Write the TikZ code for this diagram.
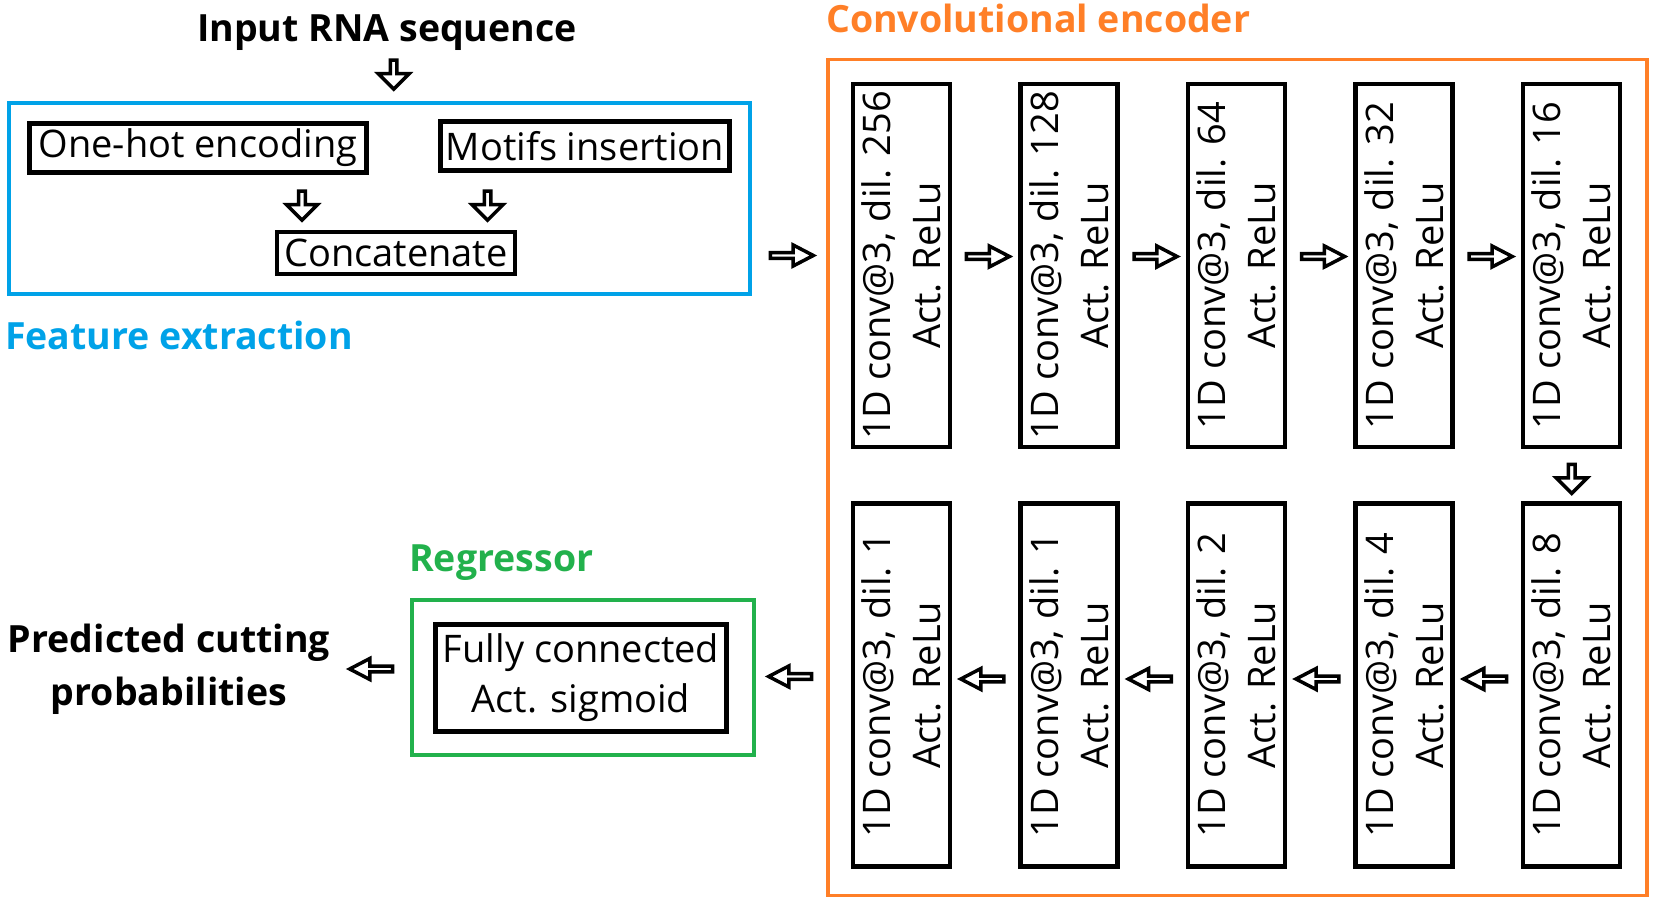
\documentclass[tikz,border=0pt]{standalone}
\usepackage{fontspec}
\setmainfont{Open Sans}
\usetikzlibrary{calc, shapes.arrows}
\definecolor{fblue}{RGB}{0,162,232}
\definecolor{forange}{RGB}{255,127,39}
\definecolor{fgreen}{RGB}{34,177,76}
\tikzset{
	box/.style={draw, line width=4.5pt, inner sep=0pt, align=center, font=\fontsize{38}{50}\selectfont},
	conv/.style={box, rotate=90, minimum width=363pt, minimum height=97pt},
	varr/.style={draw, line width=3.5pt, single arrow, shape border rotate=270, inner sep=0pt,
		minimum height=29pt, minimum width=31pt, single arrow head extend=6.5pt},
	harr/.style={draw, line width=3.5pt, single arrow, inner sep=0pt, single arrow tip angle=55,
		minimum height=43pt, minimum width=21pt, single arrow head extend=4.5pt},
	lbl/.style={font=\fontsize{37.5}{53}\selectfont\bfseries, inner sep=0pt, align=center},
	group/.style={draw, line width=3.5pt},
}
\begin{document}
\begin{tikzpicture}[x=1pt, y=-1pt]
		\useasboundingbox (0,0) rectangle (1655,901);
		% feature extraction
		\node[lbl] (input) at (387,33) {Input RNA sequence};
		\node[varr] (ain) at (393.7,73) {};
		\draw[group, fblue] (9,103) rectangle (750,294);
		\node[box, minimum width=337pt, minimum height=49pt] (onehot) at (198,148) {One-hot encoding};
		\node[box, minimum width=289pt, minimum height=49pt] (motifs) at (585,146) {Motifs insertion};
		\node[box, minimum width=238pt, minimum height=42pt] (concat) at (396,253) {Concatenate};
		\node[varr] (a1) at (302,204) {};
		\node[varr] (a2) at (487.6,204) {};
		\node[lbl, fblue, anchor=west] (featlbl) at (5,335) {Feature extraction};
		\node[harr] (aenc) at (789,255.5) {}; %to encoder
		% convolutional encoder
		\draw[group, forange] (828,59.5) rectangle (1647,895.7);
		\node[lbl, forange, anchor=west] (enclbl) at (826,18) {Convolutional encoder};
		\node[conv] (c1) at (901.3,265.5) {1D conv@3, dil. 256\\Act. ReLu};
		\node[conv] (c2) at (1068.9,265.5) {1D conv@3, dil. 128\\Act. ReLu};
		\node[conv] (c3) at (1236.5,265.5) {1D conv@3, dil. 64\\Act. ReLu};
		\node[conv] (c4) at (1404.1,265.5) {1D conv@3, dil. 32\\Act. ReLu};
		\node[conv] (c5) at (1571.7,265.5) {1D conv@3, dil. 16\\Act. ReLu};
		\node[conv] (c6) at (1571.7,685) {1D conv@3, dil. 8\\Act. ReLu};
		\node[conv] (c7) at (1404.1,685) {1D conv@3, dil. 4\\Act. ReLu};
		\node[conv] (c8) at (1236.5,685) {1D conv@3, dil. 2\\Act. ReLu};
		\node[conv] (c9) at (1068.9,685) {1D conv@3, dil. 1\\Act. ReLu};
		\node[conv] (c10) at (901.3,685) {1D conv@3, dil. 1\\Act. ReLu};
		\node[harr] at ($(c1)!.5!(c2)+(0,-9)$) {};
		\node[harr] at ($(c2)!.5!(c3)+(0,-9)$) {};
		\node[harr] at ($(c3)!.5!(c4)+(0,-9)$) {};
		\node[harr] at ($(c4)!.5!(c5)+(0,-9)$) {};
		\node[varr] at ($(c5)!.5!(c6)+(0,2)$) {};
		\node[harr, shape border rotate=180] at ($(c6)!.5!(c7)+(0,-6)$) {};
		\node[harr, shape border rotate=180] at ($(c7)!.5!(c8)+(0,-6)$) {};
		\node[harr, shape border rotate=180] at ($(c8)!.5!(c9)+(0,-6)$) {};
		\node[harr, shape border rotate=180] at ($(c9)!.5!(c10)+(0,-6)$) {};
		% regressor
		\node[harr, shape border rotate=180] (aout) at (793,676.5) {}; %from encoder
		\draw[group, fgreen] (412,600) rectangle (754,755);
		\node[lbl, fgreen, anchor=west] (reglbl) at (409,563) {Regressor};
		\node[box, minimum width=291pt, minimum height=107pt] (fc) at (581,678) {Fully connected\\Act. sigmoid};
		\node[harr, shape border rotate=180] (apred) at (374,669) {};
		\node[lbl] (pred) at (169,669) {Predicted cutting\\probabilities};
	\end{tikzpicture}
\end{document}
